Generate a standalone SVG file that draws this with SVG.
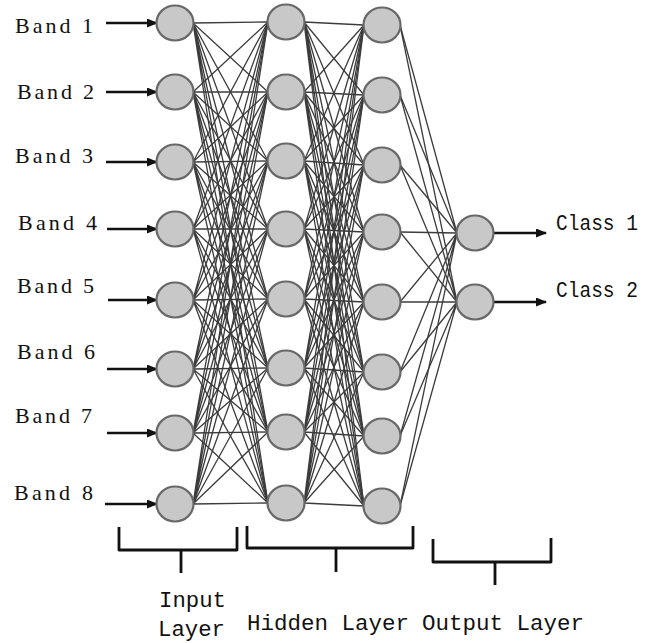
<svg xmlns="http://www.w3.org/2000/svg" width="654" height="643" viewBox="0 0 654 643">
  <defs>
    <marker id="arrow" markerUnits="userSpaceOnUse" markerWidth="11" markerHeight="9" refX="10" refY="4.5" orient="auto">
      <path d="M0,0 L11,4.5 L0,9 z" fill="#111"/>
    </marker>
    <style>
      .node { fill: #c8c8c8; stroke: #686868; stroke-width: 2.2; }
      .edge { fill: none; stroke: #3c3c3c; stroke-width: 1.3; }
      .feed { stroke: #111; stroke-width: 2.6; marker-end: url(#arrow); }
      .band { font-family: "Liberation Serif", "Times New Roman", serif; font-size: 22px; fill: #111; }
      .mono { font-family: "Liberation Mono", "Courier New", monospace; font-size: 22px; fill: #111; }
      .brace { fill: none; stroke: #111; stroke-width: 2.8; stroke-linejoin: round; }
    </style>
  </defs>
  <rect width="654" height="643" fill="#fff"/>

  <!-- weighted connections between layers -->
  <g id="connectors">
    <!-- input -> hidden 1 -->
    <path class="edge" d="M193 23L268 22M193 23L268 92M193 23L268 161M193 23L268 229M193 23L268 299M193 23L268 368M193 23L268 432M193 23L268 503"/>
    <path class="edge" d="M193 92L268 22M193 92L268 92M193 92L268 161M193 92L268 229M193 92L268 299M193 92L268 368M193 92L268 432M193 92L268 503"/>
    <path class="edge" d="M193 162L268 22M193 162L268 92M193 162L268 161M193 162L268 229M193 162L268 299M193 162L268 368M193 162L268 432M193 162L268 503"/>
    <path class="edge" d="M193 229L268 22M193 229L268 92M193 229L268 161M193 229L268 229M193 229L268 299M193 229L268 368M193 229L268 432M193 229L268 503"/>
    <path class="edge" d="M193 300L268 22M193 300L268 92M193 300L268 161M193 300L268 229M193 300L268 299M193 300L268 368M193 300L268 432M193 300L268 503"/>
    <path class="edge" d="M193 369L268 22M193 369L268 92M193 369L268 161M193 369L268 229M193 369L268 299M193 369L268 368M193 369L268 432M193 369L268 503"/>
    <path class="edge" d="M193 433L268 22M193 433L268 92M193 433L268 161M193 433L268 229M193 433L268 299M193 433L268 368M193 433L268 432M193 433L268 503"/>
    <path class="edge" d="M193 504L268 22M193 504L268 92M193 504L268 161M193 504L268 229M193 504L268 299M193 504L268 368M193 504L268 432M193 504L268 503"/>
    <!-- hidden 1 -> hidden 2 -->
    <path class="edge" d="M304 22L364 25M304 22L364 95M304 22L364 165M304 22L364 232M304 22L364 302M304 22L364 372M304 22L364 436M304 22L364 506"/>
    <path class="edge" d="M304 92L364 25M304 92L364 95M304 92L364 165M304 92L364 232M304 92L364 302M304 92L364 372M304 92L364 436M304 92L364 506"/>
    <path class="edge" d="M304 161L364 25M304 161L364 95M304 161L364 165M304 161L364 232M304 161L364 302M304 161L364 372M304 161L364 436M304 161L364 506"/>
    <path class="edge" d="M304 229L364 25M304 229L364 95M304 229L364 165M304 229L364 232M304 229L364 302M304 229L364 372M304 229L364 436M304 229L364 506"/>
    <path class="edge" d="M304 299L364 25M304 299L364 95M304 299L364 165M304 299L364 232M304 299L364 302M304 299L364 372M304 299L364 436M304 299L364 506"/>
    <path class="edge" d="M304 368L364 25M304 368L364 95M304 368L364 165M304 368L364 232M304 368L364 302M304 368L364 372M304 368L364 436M304 368L364 506"/>
    <path class="edge" d="M304 432L364 25M304 432L364 95M304 432L364 165M304 432L364 232M304 432L364 302M304 432L364 372M304 432L364 436M304 432L364 506"/>
    <path class="edge" d="M304 503L364 25M304 503L364 95M304 503L364 165M304 503L364 232M304 503L364 302M304 503L364 372M304 503L364 436M304 503L364 506"/>
    <!-- hidden 2 -> output -->
    <path class="edge" d="M400 25L457 233M400 95L457 233M400 165L457 233M400 232L457 233M400 302L457 233M400 372L457 233M400 436L457 233M400 506L457 233"/>
    <path class="edge" d="M400 25L457 302M400 95L457 302M400 165L457 302M400 232L457 302M400 302L457 302M400 372L457 302M400 436L457 302M400 506L457 302"/>
    <!-- band inputs -->
    <line class="feed" x1="106" y1="23" x2="157" y2="23"/>
    <line class="feed" x1="106" y1="92" x2="157" y2="92"/>
    <line class="feed" x1="106" y1="162" x2="157" y2="162"/>
    <line class="feed" x1="107" y1="229" x2="157" y2="229"/>
    <line class="feed" x1="108" y1="300" x2="157" y2="300"/>
    <line class="feed" x1="107" y1="369" x2="157" y2="369"/>
    <line class="feed" x1="107" y1="433" x2="157" y2="433"/>
    <line class="feed" x1="105" y1="504" x2="157" y2="504"/>
    <!-- class outputs -->
    <line class="feed" x1="493" y1="233" x2="546" y2="233"/>
    <line class="feed" x1="493" y1="302" x2="546" y2="302"/>
  </g>

  <!-- input layer -->
  <g id="input-layer">
    <ellipse id="in1" class="node" cx="175" cy="23" rx="18.5" ry="17.5"/>
    <ellipse id="in2" class="node" cx="175" cy="92" rx="18.5" ry="17.5"/>
    <ellipse id="in3" class="node" cx="175" cy="162" rx="18.5" ry="17.5"/>
    <ellipse id="in4" class="node" cx="175" cy="229" rx="18.5" ry="17.5"/>
    <ellipse id="in5" class="node" cx="175" cy="300" rx="18.5" ry="17.5"/>
    <ellipse id="in6" class="node" cx="175" cy="369" rx="18.5" ry="17.5"/>
    <ellipse id="in7" class="node" cx="175" cy="433" rx="18.5" ry="17.5"/>
    <ellipse id="in8" class="node" cx="175" cy="504" rx="18.5" ry="17.5"/>
  </g>

  <!-- first hidden layer -->
  <g id="hidden-layer-1">
    <ellipse id="h1n1" class="node" cx="286" cy="22" rx="18.5" ry="17.5"/>
    <ellipse id="h1n2" class="node" cx="286" cy="92" rx="18.5" ry="17.5"/>
    <ellipse id="h1n3" class="node" cx="286" cy="161" rx="18.5" ry="17.5"/>
    <ellipse id="h1n4" class="node" cx="286" cy="229" rx="18.5" ry="17.5"/>
    <ellipse id="h1n5" class="node" cx="286" cy="299" rx="18.5" ry="17.5"/>
    <ellipse id="h1n6" class="node" cx="286" cy="368" rx="18.5" ry="17.5"/>
    <ellipse id="h1n7" class="node" cx="286" cy="432" rx="18.5" ry="17.5"/>
    <ellipse id="h1n8" class="node" cx="286" cy="503" rx="18.5" ry="17.5"/>
  </g>

  <!-- second hidden layer -->
  <g id="hidden-layer-2">
    <ellipse id="h2n1" class="node" cx="382" cy="25" rx="18.5" ry="17.5"/>
    <ellipse id="h2n2" class="node" cx="382" cy="95" rx="18.5" ry="17.5"/>
    <ellipse id="h2n3" class="node" cx="382" cy="165" rx="18.5" ry="17.5"/>
    <ellipse id="h2n4" class="node" cx="382" cy="232" rx="18.5" ry="17.5"/>
    <ellipse id="h2n5" class="node" cx="382" cy="302" rx="18.5" ry="17.5"/>
    <ellipse id="h2n6" class="node" cx="382" cy="372" rx="18.5" ry="17.5"/>
    <ellipse id="h2n7" class="node" cx="382" cy="436" rx="18.5" ry="17.5"/>
    <ellipse id="h2n8" class="node" cx="382" cy="506" rx="18.5" ry="17.5"/>
  </g>

  <!-- output layer -->
  <g id="output-layer">
    <ellipse id="out1" class="node" cx="475" cy="233" rx="18.5" ry="17.5"/>
    <ellipse id="out2" class="node" cx="475" cy="302" rx="18.5" ry="17.5"/>
  </g>

  <!-- band labels -->
  <g id="band-labels">
    <text class="band" x="15" y="33" textLength="78" lengthAdjust="spacing">Band 1</text>
    <text class="band" x="17" y="99" textLength="77" lengthAdjust="spacing">Band 2</text>
    <text class="band" x="15" y="163" textLength="78" lengthAdjust="spacing">Band 3</text>
    <text class="band" x="18" y="230" textLength="79" lengthAdjust="spacing">Band 4</text>
    <text class="band" x="17" y="293" textLength="77" lengthAdjust="spacing">Band 5</text>
    <text class="band" x="17" y="359" textLength="78" lengthAdjust="spacing">Band 6</text>
    <text class="band" x="15" y="423" textLength="77" lengthAdjust="spacing">Band 7</text>
    <text class="band" x="14" y="500" textLength="79" lengthAdjust="spacing">Band 8</text>
  </g>

  <!-- class labels -->
  <g id="class-labels">
    <text class="mono" x="556" y="230" textLength="82" lengthAdjust="spacingAndGlyphs">Class 1</text>
    <text class="mono" x="556" y="297" textLength="82" lengthAdjust="spacingAndGlyphs">Class 2</text>
  </g>

  <!-- layer braces and captions -->
  <g id="layer-captions">
    <path class="brace" d="M119 527V550H237V527M181 550V573"/>
    <path class="brace" d="M247 526V548H413V526M336 548V572"/>
    <path class="brace" d="M433 539V562H551V538M495 562V585"/>
    <text class="mono" x="159" y="607" textLength="67" lengthAdjust="spacingAndGlyphs">Input</text>
    <text class="mono" x="158" y="636" font-size="21" textLength="67" lengthAdjust="spacingAndGlyphs">Layer</text>
    <text class="mono" x="247" y="630" textLength="162" lengthAdjust="spacingAndGlyphs">Hidden Layer</text>
    <text class="mono" x="422" y="630" textLength="162" lengthAdjust="spacingAndGlyphs">Output Layer</text>
  </g>
</svg>
